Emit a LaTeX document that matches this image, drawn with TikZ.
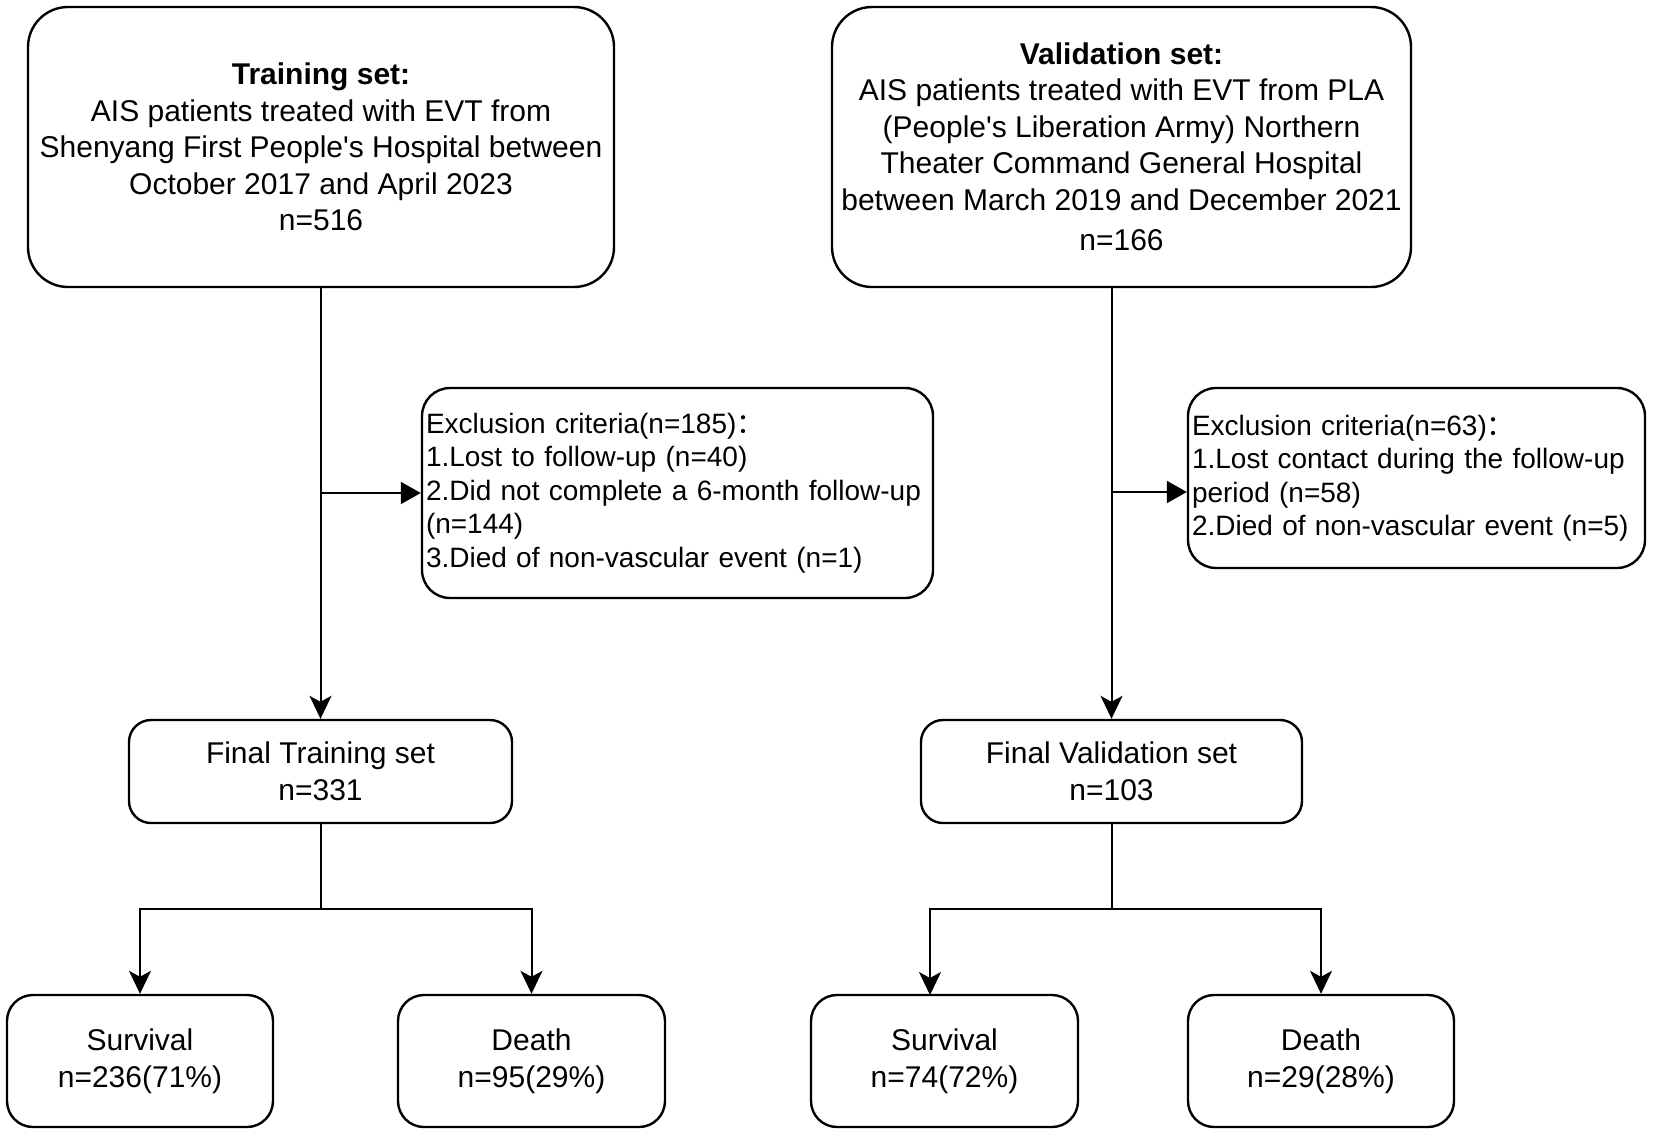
\documentclass[tikz,border=0pt]{standalone}
\usepackage{fontspec}
\setmainfont{Liberation Sans}[Ligatures=TeXOff]
\newfontfamily\cjk{Noto Sans CJK SC}
\usetikzlibrary{arrows.meta}
\begin{document}
\begin{tikzpicture}[x=0.5pt,y=-0.5pt,
  box/.style={draw, line width=1.2pt, align=center, inner sep=0pt,
    font=\fontsize{15}{18.25}\selectfont},
  bigbox/.style={box, rounded corners=20pt, minimum height=140pt},
  exbox/.style={draw, line width=1.2pt, rounded corners=14pt, align=left,
    inner xsep=2pt, inner ysep=0pt, font=\fontsize{14}{16.75}\selectfont},
  midbox/.style={box, rounded corners=11pt, minimum height=51.5pt},
  endbox/.style={box, rounded corners=13pt, minimum height=66pt},
  conn/.style={line width=1pt},
  downarr/.style={conn, -{Stealth[length=11.5pt,width=11pt,inset=3pt]}},
  sidearr/.style={conn, -{Triangle[length=10pt,width=11pt]}}
]
\useasboundingbox (0,0) rectangle (1654,1135);

\node[bigbox, minimum width=293pt] (b1) at (321,147)
  {\textbf{Training set:}\\AIS patients treated with EVT from\\Shenyang First People's Hospital between\\October 2017 and April 2023\\n=516};
\node[bigbox, minimum width=289.5pt] (b2) at (1121.5,147)
  {\textbf{Validation set:}\\AIS patients treated with EVT from PLA\\(People's Liberation Army) Northern\\Theater Command General Hospital\\between March 2019 and December 2021\\[2pt]n=166};

\node[exbox, minimum width=255.5pt, minimum height=105pt, text width=251.5pt] (e1) at (677.5,493)
  {Exclusion criteria(n=185){\cjk ：}\\1.Lost to follow-up (n=40)\\2.Did not complete a 6-month follow-up\\(n=144)\\3.Died of non-vascular event (n=1)};
\node[exbox, minimum width=228.5pt, minimum height=90pt, text width=224.5pt] (e2) at (1416.5,478)
  {Exclusion criteria(n=63){\cjk ：}\\1.Lost contact during the follow-up\\period (n=58)\\2.Died of non-vascular event (n=5)};

\node[midbox, minimum width=191.5pt] (ft) at (320.5,771.5) {Final Training set\\n=331};
\node[midbox, minimum width=190.5pt] (fv) at (1111.5,771.5) {Final Validation set\\n=103};

\node[endbox, minimum width=133pt] (s1) at (140,1061) {Survival\\n=236(71\%)};
\node[endbox, minimum width=133.5pt] (d1) at (531.5,1061) {Death\\n=95(29\%)};
\node[endbox, minimum width=133.5pt] (s2) at (944.5,1061) {Survival\\n=74(72\%)};
\node[endbox, minimum width=133pt] (d2) at (1321,1061) {Death\\n=29(28\%)};

% top to final
\draw[downarr] (ft.north |- b1.south) -- (ft.north);
\draw[downarr] (fv.north |- b2.south) -- (fv.north);

% exclusions
\draw[sidearr] (e1.west -| ft.north) -- (e1.west);
\coordinate (a2) at (1111.5,492);
\draw[sidearr] (a2) -- (a2 -| e2.west);

% branches
\coordinate (t1) at (320.5,909);
\draw[conn] (ft.south) -- (t1);
\draw[downarr] (t1) -| (s1.north);
\draw[downarr] (t1) -| (d1.north);

\coordinate (t2) at (1111.5,909);
\coordinate (s2in) at (930,995);
\draw[conn] (fv.south) -- (t2);
\draw[downarr] (t2) -| (s2in);
\draw[downarr] (t2) -| (d2.north);
\end{tikzpicture}
\end{document}
